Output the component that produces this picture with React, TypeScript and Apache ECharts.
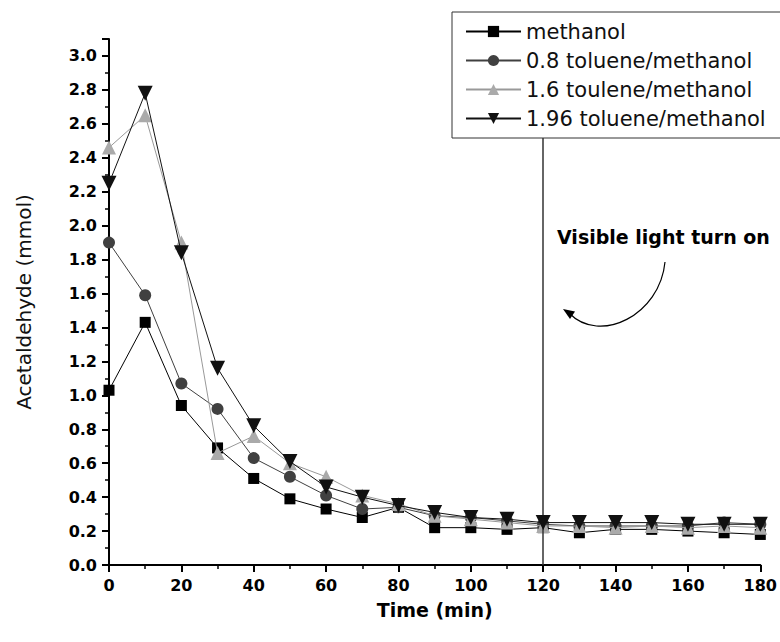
import React, { useEffect, useRef } from "react";
import * as echarts from "echarts";

const times = [0, 10, 20, 30, 40, 50, 60, 70, 80, 90, 100, 110, 120, 130, 140, 150, 160, 170, 180];
const methanol = [1.03, 1.43, 0.94, 0.69, 0.51, 0.39, 0.33, 0.28, 0.34, 0.22, 0.22, 0.21, 0.22, 0.19, 0.21, 0.21, 0.2, 0.19, 0.18];
const toluene08 = [1.9, 1.59, 1.07, 0.92, 0.63, 0.52, 0.41, 0.33, 0.34, 0.29, 0.28, 0.26, 0.24, 0.23, 0.23, 0.23, 0.23, 0.25, 0.24];
const toluene16 = [2.46, 2.65, 1.9, 0.66, 0.76, 0.6, 0.52, 0.41, 0.36, 0.29, 0.27, 0.25, 0.23, 0.23, 0.22, 0.23, 0.22, 0.23, 0.22];
const toluene196 = [2.25, 2.78, 1.84, 1.16, 0.82, 0.61, 0.46, 0.4, 0.35, 0.31, 0.28, 0.27, 0.25, 0.25, 0.25, 0.25, 0.24, 0.24, 0.24];

const seriesNames = ["methanol", "0.8 toluene/methanol", "1.6 toulene/methanol", "1.96 toluene/methanol"];
const lightOnTime = 120;
const annotationText = "Visible light turn on";

const FONT = "DejaVu Sans";

const pair = (arr: number[]) => times.map((t, i) => [t, arr[i]]);

export default function App() {
  const ref = useRef<HTMLDivElement>(null);
  useEffect(() => {
    document.body.style.margin = "0";
    const chart = echarts.init(ref.current!, null, { renderer: "svg" });
    const tickLabel = { fontFamily: FONT, fontWeight: "bold" as const, fontSize: 16, color: "#000" };
    chart.setOption({
      animation: false,
      backgroundColor: "#fff",
      grid: { left: 109, right: 19, top: 39, bottom: 77, containLabel: false },
      legend: {
        orient: "vertical",
        left: 452,
        top: 12,
        padding: [9, 25, 9, 13],
        itemGap: 8,
        itemWidth: 55,
        itemHeight: 14,
        borderColor: "#333",
        borderWidth: 1,
        backgroundColor: "#fff",
        z: 10,
        textStyle: { fontFamily: FONT, fontSize: 21, color: "#111" },
        data: seriesNames,
      },
      xAxis: {
        type: "value",
        min: 0,
        max: 180,
        interval: 20,
        name: "Time (min)",
        nameLocation: "middle",
        nameGap: 35,
        nameTextStyle: { fontFamily: FONT, fontWeight: "bold", fontSize: 19, color: "#000" },
        axisLine: { onZero: false, lineStyle: { color: "#000", width: 2 } },
        axisTick: { show: true, inside: false, length: 7, lineStyle: { color: "#000", width: 2 } },
        minorTick: { show: true, splitNumber: 2, length: 4, lineStyle: { color: "#000", width: 1.5 } },
        splitLine: { show: false },
        axisLabel: { ...tickLabel, margin: 12 },
      },
      yAxis: {
        type: "value",
        min: 0,
        max: 3.1,
        interval: 0.2,
        name: "Acetaldehyde (mmol)",
        nameLocation: "middle",
        nameGap: 75,
        nameTextStyle: { fontFamily: FONT, fontSize: 20, color: "#111" },
        axisLine: { show: true, lineStyle: { color: "#000", width: 2 } },
        axisTick: { show: true, inside: false, length: 7, lineStyle: { color: "#000", width: 2 } },
        minorTick: { show: true, splitNumber: 2, length: 4, lineStyle: { color: "#000", width: 1.5 } },
        splitLine: { show: false },
        axisLabel: {
          ...tickLabel,
          margin: 12,
          showMaxLabel: false,
          formatter: (v: number) => v.toFixed(1),
        },
      },
      series: [
        {
          name: seriesNames[0],
          type: "line",
          data: pair(methanol),
          symbol: "rect",
          symbolSize: 11,
          itemStyle: { color: "#000" },
          lineStyle: { color: "#000", width: 1 },
          z: 2,
        },
        {
          name: seriesNames[1],
          type: "line",
          data: pair(toluene08),
          symbol: "circle",
          symbolSize: 12,
          itemStyle: { color: "#404040" },
          lineStyle: { color: "#404040", width: 1 },
          z: 3,
        },
        {
          name: seriesNames[2],
          type: "line",
          data: pair(toluene16),
          symbol: "triangle",
          symbolSize: 14,
          itemStyle: { color: "#aaaaaa" },
          lineStyle: { color: "#999999", width: 1 },
          z: 4,
        },
        {
          name: seriesNames[3],
          type: "line",
          data: pair(toluene196),
          symbol: "triangle",
          symbolRotate: 180,
          symbolSize: 15,
          itemStyle: { color: "#111" },
          lineStyle: { color: "#111", width: 1 },
          z: 5,
          markLine: {
            silent: true,
            symbol: "none",
            label: { show: false },
            lineStyle: { color: "#333", width: 1.5, type: "solid" },
            data: [{ xAxis: lightOnTime }],
          },
        },
      ],
      graphic: [
        {
          type: "text",
          left: 557,
          top: 227,
          style: { text: annotationText, fontFamily: FONT, fontWeight: "bold", fontSize: 19, fill: "#000" },
        },
        {
          type: "bezierCurve",
          shape: { x1: 665, y1: 262, cpx1: 660, cpy1: 315, cpx2: 600, cpy2: 345, x2: 569, y2: 313 },
          style: { stroke: "#000", lineWidth: 1.2, fill: "none" },
        },
        {
          type: "polygon",
          shape: { points: [[563, 309], [575, 311.5], [570, 319]] },
          style: { fill: "#000" },
        },
      ],
    });
    return () => chart.dispose();
  }, []);
  return <div ref={ref} style={{ width: 780, height: 642 }} />;
}
